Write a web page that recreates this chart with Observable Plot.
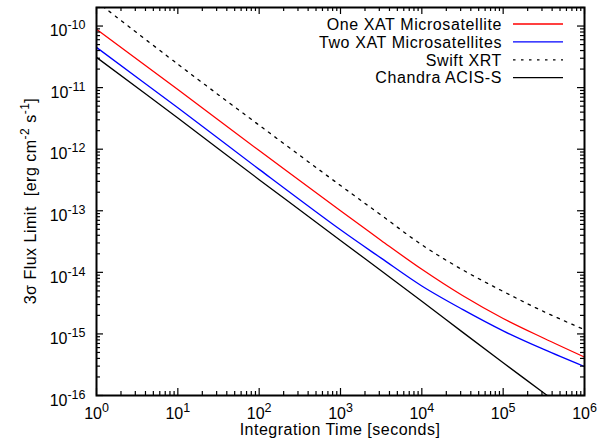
<!DOCTYPE html>
<html><head><meta charset="utf-8">
<script src="https://cdn.jsdelivr.net/npm/d3@7"></script>
<script src="https://cdn.jsdelivr.net/npm/@observablehq/plot@0.6"></script>
<style>
body{margin:0;background:#fff;}
#chart svg text{font-family:"Liberation Sans",Arial,sans-serif;}
</style></head><body><div id="chart"></div>
<script>
// ---- data ----
const times    = [1, 10, 100, 1000, 3162, 10000, 31623, 100000, 316228, 1000000];
const oneXAT   = [8.9e-11, 9.3e-12, 9.5e-13, 1.0e-13, 3.3e-14, 1.12e-14, 4.2e-15, 1.78e-15, 8.5e-16, 4.2e-16];
const twoXAT   = [4.5e-11, 4.7e-12, 4.7e-13, 4.9e-14, 1.7e-14, 6.0e-15, 2.5e-15, 1.12e-15, 5.6e-16, 2.95e-16];
const swiftXRT = [2.5e-10, 2.4e-11, 2.45e-12, 2.57e-13, 8.5e-14, 2.8e-14, 1.1e-14, 4.9e-15, 2.3e-15, 1.17e-15];
const chandra  = [3.1e-11, 3.2e-12, 3.2e-13, 3.3e-14, 1.06e-14, 3.4e-15, 1.07e-15, 3.4e-16, 1.1e-16, 3.5e-17];

const seriesNames  = ["One XAT Microsatellite", "Two XAT Microsatellites", "Swift XRT", "Chandra ACIS-S"];
const seriesValues = [oneXAT, twoXAT, swiftXRT, chandra];
const seriesColors = ["#ff0000", "#0000ff", "#000000", "#000000"];
const seriesDash   = [null, null, "2.5,5.5", null];

const xTickValues = [1, 10, 100, 1e3, 1e4, 1e5, 1e6];
const yTickValues = [1e-16, 1e-15, 1e-14, 1e-13, 1e-12, 1e-11, 1e-10];
const xLabel = "Integration Time [seconds]";

// ---- layout ----
const W = 597, H = 442;
const M = {top: 7, right: 13, bottom: 47, left: 96};
const innerW = W - M.left - M.right;
const innerH = H - M.top - M.bottom;
const majorLen = 7, minorLen = 4;

const mult = [2, 3, 4, 5, 6, 7, 8, 9];
const xMinor = [0, 1, 2, 3, 4, 5].flatMap(e => mult.map(m => m * Math.pow(10, e)));
const yMinor = [-16, -15, -14, -13, -12, -11, -10].flatMap(e => mult.map(m => m * Math.pow(10, e))).filter(v => v <= 2.0001e-10);

const rows = seriesNames.flatMap((name, i) => times.map((t, j) => ({name, t, f: seriesValues[i][j]})));

const expFmt = d => "10|" + Math.round(Math.log10(d));

const lineMarks = seriesNames.map((name, i) =>
  Plot.line(rows.filter(r => r.name === name), {
    x: "t", y: "f", stroke: seriesColors[i], strokeWidth: 1.3,
    strokeDasharray: seriesDash[i] || undefined, curve: "catmull-rom", clip: true
  })
);

const tickStyle = {stroke: "black", strokeWidth: 1.2};
const svg = Plot.plot({
  width: W, height: H,
  marginTop: M.top, marginRight: M.right, marginBottom: M.bottom, marginLeft: M.left,
  x: {type: "log", domain: [1, 1e6]},
  y: {type: "log", domain: [1e-16, 2e-10]},
  style: {fontFamily: "Liberation Sans, Arial, sans-serif", fontSize: "16px", background: "white", color: "black"},
  marks: [
    ...lineMarks,
    // inward ticks on all four sides
    Plot.ruleX(xTickValues, {x: d => d, insetTop: innerH - majorLen, ...tickStyle}),
    Plot.ruleX(xTickValues, {x: d => d, insetBottom: innerH - majorLen, ...tickStyle}),
    Plot.ruleX(xMinor, {x: d => d, insetTop: innerH - minorLen, ...tickStyle}),
    Plot.ruleX(xMinor, {x: d => d, insetBottom: innerH - minorLen, ...tickStyle}),
    Plot.ruleY(yTickValues, {y: d => d, insetRight: innerW - majorLen, ...tickStyle}),
    Plot.ruleY(yTickValues, {y: d => d, insetLeft: innerW - majorLen, ...tickStyle}),
    Plot.ruleY(yMinor, {y: d => d, insetRight: innerW - minorLen, ...tickStyle}),
    Plot.ruleY(yMinor, {y: d => d, insetLeft: innerW - minorLen, ...tickStyle}),
    Plot.axisX(xTickValues, {anchor: "bottom", tickSize: 0, tickPadding: 1, tickFormat: expFmt, label: null}),
    Plot.axisY(yTickValues, {anchor: "left", tickSize: 0, tickPadding: 11, tickFormat: expFmt, label: null}),
    Plot.frame({stroke: "black", strokeWidth: 2})
  ]
});

// superscript exponents in tick labels
const root = d3.select(svg);
root.selectAll('g[aria-label="x-axis tick label"], g[aria-label="y-axis tick label"]')
  .attr("font-size", 16).attr("fill", "black");
root.selectAll('g[aria-label="x-axis tick label"] text').attr("dy", "0.71em");
root.selectAll('g[aria-label="y-axis tick label"] text').attr("dy", "0.32em");
root.selectAll('g[aria-label="x-axis tick label"] text, g[aria-label="y-axis tick label"] text').each(function() {
  const parts = this.textContent.split("|");
  if (parts.length !== 2) return;
  const t = d3.select(this);
  t.attr("font-size", 16);
  t.text(null);
  t.append("tspan").text(parts[0]);
  t.append("tspan").attr("dy", -7).attr("font-size", 12.5).text(parts[1]);
});

// x axis label
root.append("text")
  .attr("x", M.left + innerW / 2).attr("y", 435)
  .attr("text-anchor", "middle").attr("font-size", 16).attr("letter-spacing", 0.5)
  .attr("fill", "black").text(xLabel);

// y axis label with superscripts
const yl = root.append("text")
  .attr("transform", `translate(36,${M.top + innerH / 2}) rotate(-90)`)
  .attr("text-anchor", "middle").attr("font-size", 16).attr("letter-spacing", 0.5)
  .attr("fill", "black").style("white-space", "pre");
yl.append("tspan").text("3σ Flux Limit  [erg cm");
yl.append("tspan").attr("dy", -7).attr("font-size", 12).text("-2");
yl.append("tspan").attr("dy", 7).text(" s");
yl.append("tspan").attr("dy", -7).attr("font-size", 12).text("-1");
yl.append("tspan").attr("dy", 7).text("]");

// legend
const lg = root.append("g").attr("font-size", 16).attr("letter-spacing", 0.6);
seriesNames.forEach((name, i) => {
  const yc = 24 + i * 17.9;
  lg.append("text").attr("x", 502).attr("y", yc).attr("dy", "0.36em")
    .attr("text-anchor", "end").attr("fill", "black").text(name);
  lg.append("line").attr("x1", 513).attr("x2", 563).attr("y1", yc).attr("y2", yc)
    .attr("stroke", seriesColors[i]).attr("stroke-width", 1.3)
    .attr("stroke-dasharray", seriesDash[i]);
});

document.getElementById("chart").appendChild(svg);
</script>
</body></html>
